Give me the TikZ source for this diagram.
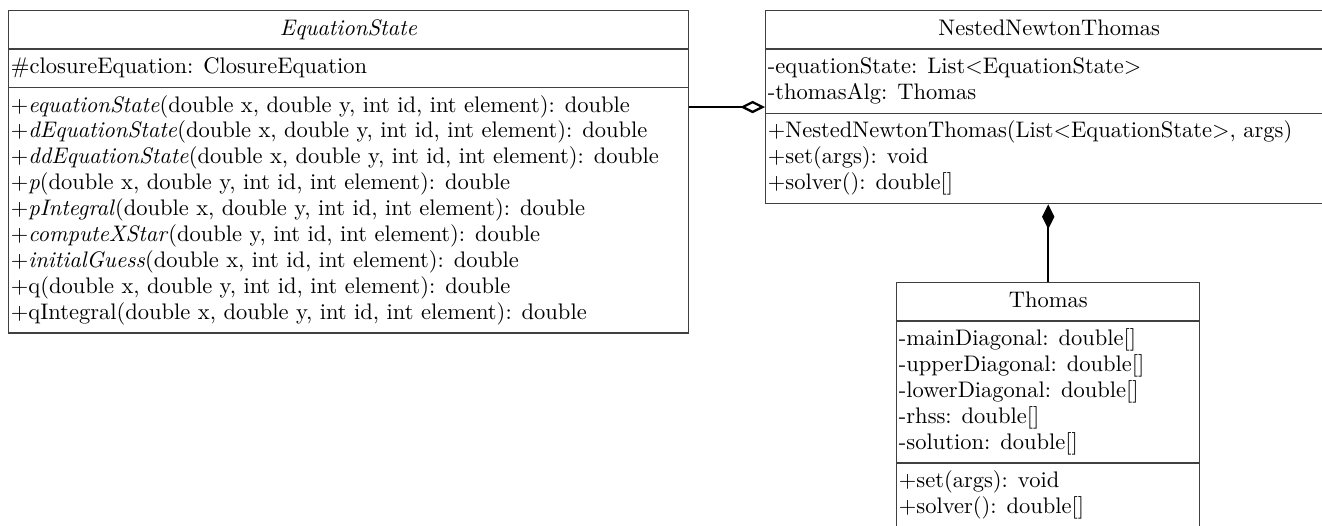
\documentclass[tikz,border=0pt]{standalone}
\usetikzlibrary{shapes.multipart, arrows.meta, positioning}
\newcommand{\members}[1]{\begin{tabular}{@{}l@{}}#1\end{tabular}}
\tikzset{
  umlclass/.style={draw=black!75,line width=0.6pt,rectangle split,rectangle split parts=3,
    rectangle split part align={center,left,left},inner xsep=1pt,inner ysep=2.5pt,
    font=\fontsize{10}{11.5}\selectfont,anchor=north west},
  aggregation/.style={-{Diamond[open,length=11pt,width=5.5pt]},line width=1pt},
  composition/.style={-{Diamond[length=11pt,width=5.5pt]},line width=1pt},
}

\begin{document}
\begin{tikzpicture}[x=0.4444pt,y=-0.4444pt]
  \useasboundingbox (0,0) rectangle (1322,525);

  \node [umlclass,minimum width=302pt] (eqs) at (8,10) {\members{\textit{EquationState}}
    \nodepart{two}\members{\#closureEquation: ClosureEquation}
    \nodepart{three}\members{%
      +\textit{equationState}(double x, double y, int id, int element): double\\
      +\textit{dEquationState}(double x, double y, int id, int element): double\\
      +\textit{ddEquationState}(double x, double y, int id, int element): double\\
      +\textit{p}(double x, double y, int id, int element): double\\
      +\textit{pIntegral}(double x, double y, int id, int element): double\\
      +\textit{computeXStar}(double y, int id, int element): double\\
      +\textit{initialGuess}(double x, int id, int element): double\\
      +q(double x, double y, int id, int element): double\\
      +qIntegral(double x, double y, int id, int element): double}};

  \node [umlclass,minimum width=252pt] (nnt) at (765,10) {\members{NestedNewtonThomas}
    \nodepart{two}\members{%
      -equationState: List$<$EquationState$>$\\
      -thomasAlg: Thomas}
    \nodepart{three}\members{%
      +NestedNewtonThomas(List$<$EquationState$>$, args)\\
      +set(args): void\\
      +solver(): double[]}};

  \node [umlclass,minimum width=134.7pt] (thomas) at (896,282) {\members{Thomas}
    \nodepart{two}\members{%
      -mainDiagonal: double[]\\
      -upperDiagonal: double[]\\
      -lowerDiagonal: double[]\\
      -rhss: double[]\\
      -solution: double[]}
    \nodepart{three}\members{%
      +set(args): void\\
      +solver(): double[]}};

  % associations
  \coordinate (aggy) at (0,107);
  \draw [aggregation] (eqs.east |- aggy) -- (nnt.west |- aggy);
  \draw [composition] (thomas.north) -- (thomas.north |- nnt.south);
\end{tikzpicture}
\end{document}
